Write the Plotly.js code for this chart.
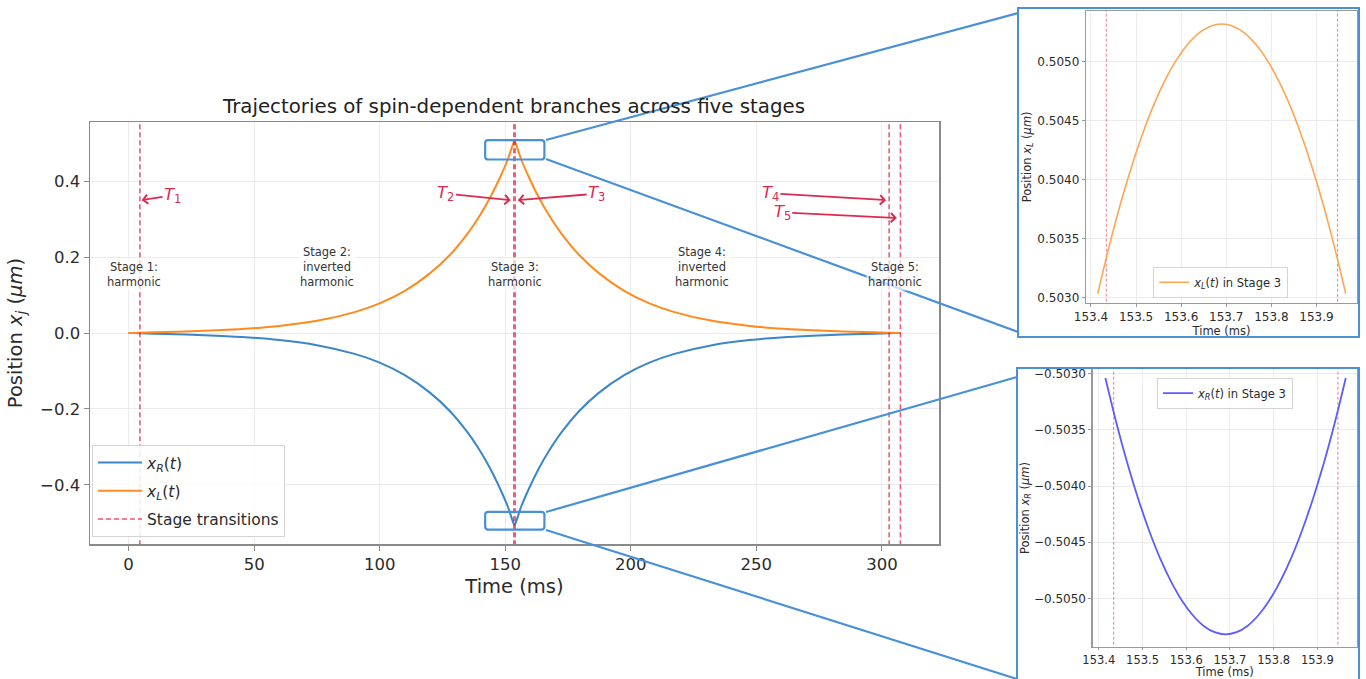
<!DOCTYPE html>
<html>
<head>
<meta charset="utf-8">
<script src="https://cdn.plot.ly/plotly-3.0.1.min.js"></script>
<style>
html,body{margin:0;padding:0;background:#fff;}
#chart{width:1366px;height:679px;}
</style>
</head>
<body>
<div id="chart"></div>
<script>
// ---------- data ----------
const tMain = [0, 2, 4.5, 15, 30, 45, 60, 75, 90, 100, 110, 120, 128, 135, 140, 144, 148, 151,
  153.43, 153.69, 153.95,
  156.38, 159.38, 163.38, 167.38, 172.38, 179.38, 187.38, 197.38, 207.38, 217.38, 232.38,
  247.38, 262.38, 277.38, 292.38, 302.88, 305.38, 307.38];
const xLMain = [0, 0.0002, 0.0006, 0.0025, 0.0058, 0.0105, 0.0185, 0.032, 0.055, 0.078, 0.111, 0.157, 0.206, 0.262, 0.311, 0.357, 0.411, 0.457,
  0.5033, 0.5053, 0.5033,
  0.457, 0.411, 0.357, 0.311, 0.262, 0.206, 0.157, 0.111, 0.078, 0.055, 0.032,
  0.0185, 0.0105, 0.0058, 0.0025, 0.0006, 0.0002, 0];
const xRMain = [0, -0.0002, -0.0006, -0.0025, -0.0058, -0.0105, -0.0185, -0.032, -0.055, -0.078, -0.111, -0.157, -0.206, -0.262, -0.311, -0.357, -0.411, -0.457,
  -0.5033, -0.5053, -0.5033,
  -0.457, -0.411, -0.357, -0.311, -0.262, -0.206, -0.157, -0.111, -0.078, -0.055, -0.032,
  -0.0185, -0.0105, -0.0058, -0.0025, -0.0006, -0.0002, 0];
const stageTransitions = [4.5, 153.43, 153.95, 302.88, 307.38];
const stageLabels = ["Stage 1:<br>harmonic", "Stage 2:<br>inverted<br>harmonic", "Stage 3:<br>harmonic",
  "Stage 4:<br>inverted<br>harmonic", "Stage 5:<br>harmonic"];
const transitionLabels = ["<i>T</i><sub>1</sub>", "<i>T</i><sub>2</sub>", "<i>T</i><sub>3</sub>", "<i>T</i><sub>4</sub>", "<i>T</i><sub>5</sub>"];

const tZoom = [153.415, 153.44, 153.465, 153.49, 153.515, 153.54, 153.565, 153.59, 153.615, 153.64, 153.665,
  153.69, 153.715, 153.74, 153.765, 153.79, 153.815, 153.84, 153.865, 153.89, 153.915, 153.94, 153.965];
const xLZoom = [0.503037, 0.503433, 0.503792, 0.504112, 0.504395, 0.504641, 0.504848, 0.505018, 0.505150, 0.505245, 0.505301,
  0.505320, 0.505301, 0.505245, 0.505150, 0.505018, 0.504848, 0.504641, 0.504395, 0.504112, 0.503792, 0.503433, 0.503037];
const xRZoom = [-0.503037, -0.503433, -0.503792, -0.504112, -0.504395, -0.504641, -0.504848, -0.505018, -0.505150, -0.505245, -0.505301,
  -0.505320, -0.505301, -0.505245, -0.505150, -0.505018, -0.504848, -0.504641, -0.504395, -0.504112, -0.503792, -0.503433, -0.503037];
const zoomTransitions = [153.434, 153.947];

const mainXTicks = [0, 50, 100, 150, 200, 250, 300];
const mainYTicks = [-0.4, -0.2, 0.0, 0.2, 0.4];
const zoomXTicks = [153.4, 153.5, 153.6, 153.7, 153.8, 153.9];
const zoomLYTicks = [0.5030, 0.5035, 0.5040, 0.5045, 0.5050];
const zoomRYTicks = [-0.5050, -0.5045, -0.5040, -0.5035, -0.5030];

// ---------- styles ----------
const W = 1366, H = 679;
const px = v => v / W;
const py = v => 1 - v / H;
const FONT = "DejaVu Sans, Verdana, sans-serif";
const TXT = "#2b2b2b";
const BLUE = "#3a86c8", ORANGE = "#ff8b1f";
const RED = "rgba(220,20,60,0.72)";
const ZBLUE = "#4a90d9";
const ARROW = "#dc2a50";

function vlines(ts, yext) {
  const x = [], y = [];
  ts.forEach(t => { x.push(t, t, null); y.push(-yext, yext, null); });
  return {x, y};
}

const mainV = vlines(stageTransitions, 10);
const zV = vlines(zoomTransitions, 10);

const traces = [
  {x: tMain, y: xRMain, type: "scatter", mode: "lines", name: "<i>x</i><sub><i>R</i></sub>(<i>t</i>)",
   line: {color: BLUE, width: 2, shape: "spline", smoothing: 0.8}, xaxis: "x", yaxis: "y", legend: "legend", legendgroup: "g1"},
  {x: tMain, y: xLMain, type: "scatter", mode: "lines", name: "<i>x</i><sub><i>L</i></sub>(<i>t</i>)",
   line: {color: ORANGE, width: 2, shape: "spline", smoothing: 0.8}, xaxis: "x", yaxis: "y", legend: "legend", legendgroup: "g2"},
  {x: mainV.x, y: mainV.y, type: "scatter", mode: "lines", name: "Stage transitions",
   line: {color: RED, width: 1.5, dash: "5px,3px"}, xaxis: "x", yaxis: "y", legend: "legend", legendgroup: "g3", hoverinfo: "skip"},
  // top inset
  {x: zV.x, y: zV.y, type: "scatter", mode: "lines", showlegend: false,
   line: {color: "rgba(220,20,60,0.55)", width: 1, dash: "3px,2px"}, xaxis: "x2", yaxis: "y2"},
  {x: tZoom, y: xLZoom, type: "scatter", mode: "lines", name: "<i>x</i><sub><i>L</i></sub>(<i>t</i>) in Stage 3",
   line: {color: "#ffa552", width: 1.6, shape: "spline"}, xaxis: "x2", yaxis: "y2", legend: "legend2"},
  // bottom inset
  {x: zV.x, y: zV.y, type: "scatter", mode: "lines", showlegend: false,
   line: {color: "rgba(220,20,60,0.55)", width: 1, dash: "3px,2px"}, xaxis: "x3", yaxis: "y3"},
  {x: tZoom, y: xRZoom, type: "scatter", mode: "lines", name: "<i>x</i><sub><i>R</i></sub>(<i>t</i>) in Stage 3",
   line: {color: "#5c5cff", width: 1.8, shape: "spline"}, xaxis: "x3", yaxis: "y3", legend: "legend3"}
];

const mainAxisCommon = {
  showline: true, linecolor: "#8a8a8a", linewidth: 1.5, mirror: true,
  showgrid: true, gridcolor: "#ebebeb", gridwidth: 1, zeroline: false,
  ticks: "outside", ticklen: 5, tickwidth: 1, tickcolor: "#8a8a8a",
  tickfont: {size: 16.5, color: TXT, family: FONT}, automargin: false
};
const insetAxisCommon = {
  showline: true, linecolor: "#9a9a9a", linewidth: 1.3, mirror: true,
  showgrid: true, gridcolor: "#ececec", gridwidth: 1, zeroline: false,
  ticks: "outside", ticklen: 3, tickwidth: 1, tickcolor: "#9a9a9a",
  tickfont: {size: 12, color: TXT, family: FONT}, automargin: false
};

// stage label annotations at the middle of each stage
const bounds = [0].concat(stageTransitions);
const annotations = [];
stageLabels.forEach((s, i) => {
  annotations.push({
    xref: "x", yref: "y", x: (bounds[i] + bounds[i + 1]) / 2, y: 0.11,
    xanchor: "center", yanchor: "bottom", showarrow: false, align: "center",
    text: s, font: {size: 11.5, color: "#333", family: FONT},
    bgcolor: "rgba(255,255,255,0.7)", borderpad: 1
  });
});
// transition arrows: [head x, head y, text x, text y]
const arrowPos = [
  [5.2, 0.35, 17.5, 0.363],
  [152.2, 0.35, 126.4, 0.367],
  [155.0, 0.35, 186.4, 0.367],
  [301.7, 0.35, 255.6, 0.368],
  [306.0, 0.303, 260.3, 0.318]
];
arrowPos.forEach((p, i) => {
  annotations.push({
    xref: "x", yref: "y", axref: "x", ayref: "y",
    x: p[0], y: p[1], ax: p[2], ay: p[3],
    text: transitionLabels[i], showarrow: true,
    arrowhead: 4, arrowsize: 1, arrowwidth: 1.8, arrowcolor: ARROW,
    font: {size: 16.5, color: ARROW, family: FONT}
  });
});

function roundRect(x0, x1, y0, y1, rx, ry) {
  return `M${x0 + rx},${y0} L${x1 - rx},${y0} Q${x1},${y0} ${x1},${y0 + ry} L${x1},${y1 - ry} Q${x1},${y1} ${x1 - rx},${y1} ` +
         `L${x0 + rx},${y1} Q${x0},${y1} ${x0},${y1 - ry} L${x0},${y0 + ry} Q${x0},${y0} ${x0 + rx},${y0} Z`;
}
const zl = {color: ZBLUE, width: 2.2};
const shapes = [
  {type: "path", xref: "x", yref: "y", path: roundRect(142.0, 165.6, 0.457, 0.508, 1.2, 0.008), line: zl, layer: "above"},
  {type: "path", xref: "x", yref: "y", path: roundRect(142.0, 165.6, -0.518, -0.471, 1.2, 0.008), line: zl, layer: "above"},
  {type: "line", xref: "paper", yref: "paper", x0: px(546), y0: py(140), x1: px(1018), y1: py(13), line: zl, layer: "above"},
  {type: "line", xref: "paper", yref: "paper", x0: px(546), y0: py(159), x1: px(1018), y1: py(332), line: zl, layer: "above"},
  {type: "line", xref: "paper", yref: "paper", x0: px(546), y0: py(512), x1: px(1017), y1: py(377), line: zl, layer: "above"},
  {type: "line", xref: "paper", yref: "paper", x0: px(546), y0: py(530), x1: px(1017), y1: py(679), line: zl, layer: "above"},
  {type: "rect", xref: "paper", yref: "paper", x0: px(1018), y0: py(8), x1: px(1359), y1: py(337), line: {color: ZBLUE, width: 2}, layer: "above"},
  {type: "rect", xref: "paper", yref: "paper", x0: px(1017), y0: py(368), x1: px(1359), y1: py(682), line: {color: ZBLUE, width: 2}, layer: "above"}
];

const layout = {
  width: W, height: H, autosize: false,
  margin: {l: 0, r: 0, t: 0, b: 0, pad: 0},
  paper_bgcolor: "#ffffff", plot_bgcolor: "#ffffff",
  font: {family: FONT, color: TXT},
  title: {text: "Trajectories of spin-dependent branches across five stages",
          x: px(514), xanchor: "center", y: py(106), yanchor: "middle",
          font: {size: 19.8, color: "#222", family: FONT}},
  xaxis: Object.assign({}, mainAxisCommon, {
    domain: [px(90), px(939)], range: [-15.37, 322.75], tickvals: mainXTicks, anchor: "y",
    title: {text: "Time (ms)", font: {size: 19.5, color: TXT, family: FONT}, standoff: 6}
  }),
  yaxis: Object.assign({}, mainAxisCommon, {
    domain: [py(544), py(122)], range: [-0.5558, 0.5558], tickvals: mainYTicks, tickformat: ".1f", anchor: "x",
    title: {text: "Position <i>x</i><sub><i>j</i></sub> (<i>μm</i>)", font: {size: 19.5, color: TXT, family: FONT}, standoff: 12}
  }),
  xaxis2: Object.assign({}, insetAxisCommon, {
    domain: [px(1086), px(1357)], range: [153.389, 153.99], tickvals: zoomXTicks, tickformat: ".1f", anchor: "y2",
    title: {text: "Time (ms)", font: {size: 11.5, color: TXT, family: FONT}, standoff: 2}
  }),
  yaxis2: Object.assign({}, insetAxisCommon, {
    domain: [py(302.7), py(11)], range: [0.50296, 0.50543], tickvals: zoomLYTicks, tickformat: ".4f", anchor: "x2",
    title: {text: "Position <i>x</i><sub><i>L</i></sub> (<i>μm</i>)", font: {size: 11.5, color: TXT, family: FONT}, standoff: 3}
  }),
  xaxis3: Object.assign({}, insetAxisCommon, {
    domain: [px(1092.7), px(1356.7)], range: [153.386, 153.99], tickvals: zoomXTicks, tickformat: ".1f", anchor: "y3",
    tickfont: {size: 11.5, color: TXT, family: FONT}, ticklen: 2,
    title: {text: "Time (ms)", font: {size: 11.5, color: TXT, family: FONT}, standoff: 5}
  }),
  yaxis3: Object.assign({}, insetAxisCommon, {
    domain: [py(646.7), py(369.3)], range: [-0.50543, -0.50296], tickvals: zoomRYTicks, tickformat: ".4f", anchor: "x3",
    title: {text: "Position <i>x</i><sub><i>R</i></sub> (<i>μm</i>)", font: {size: 11.5, color: TXT, family: FONT}, standoff: 2}
  }),
  legend: {x: px(92), y: py(537), xanchor: "left", yanchor: "bottom",
           bgcolor: "rgba(255,255,255,0.85)", bordercolor: "#d4d4d4", borderwidth: 1,
           font: {size: 15.5, color: TXT, family: FONT}, traceorder: "grouped", tracegroupgap: 5, itemwidth: 44},
  legend2: {x: px(1220.7), y: py(297.7), xanchor: "center", yanchor: "bottom",
            bgcolor: "rgba(255,255,255,0.85)", bordercolor: "#d4d4d4", borderwidth: 1,
            font: {size: 11.5, color: TXT, family: FONT}},
  legend3: {x: px(1225), y: py(377.7), xanchor: "center", yanchor: "top",
            bgcolor: "rgba(255,255,255,0.85)", bordercolor: "#d4d4d4", borderwidth: 1,
            font: {size: 11.5, color: TXT, family: FONT}},
  annotations: annotations,
  shapes: shapes,
  showlegend: true
};

Plotly.newPlot("chart", traces, layout, {displayModeBar: false, staticPlot: true});
</script>
</body>
</html>
